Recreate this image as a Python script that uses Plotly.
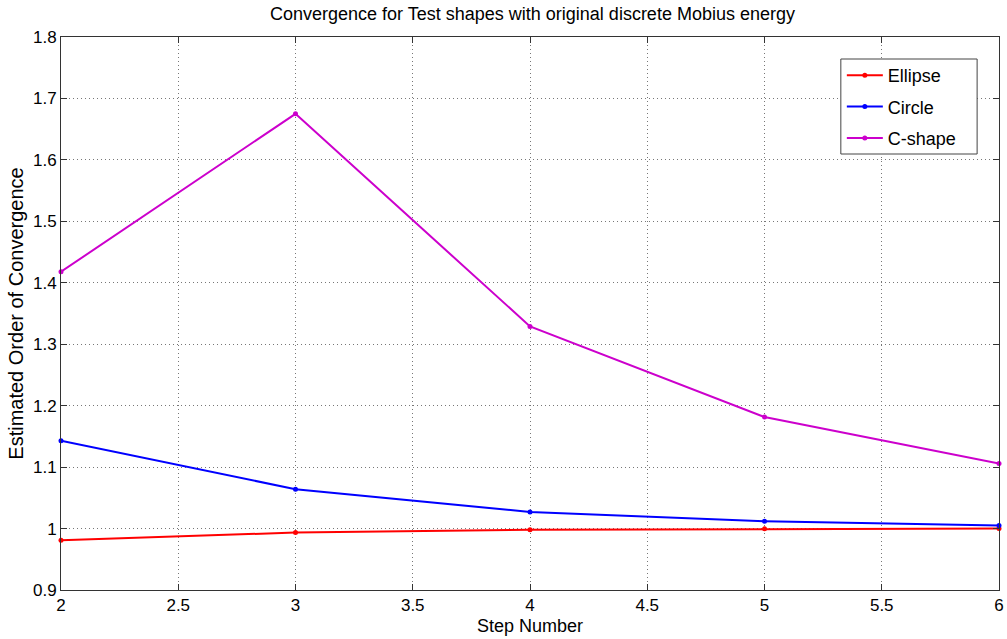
import plotly.graph_objects as go

steps = [2, 3, 4, 5, 6]
ellipse = [0.981, 0.9935, 0.998, 0.9995, 1.000]
circle = [1.143, 1.064, 1.027, 1.012, 1.005]
cshape = [1.418, 1.675, 1.329, 1.1815, 1.106]

x_ticks = [2, 2.5, 3, 3.5, 4, 4.5, 5, 5.5, 6]
y_ticks = [0.9, 1.0, 1.1, 1.2, 1.3, 1.4, 1.5, 1.6, 1.7, 1.8]
y_tick_text = ["0.9", "1", "1.1", "1.2", "1.3", "1.4", "1.5", "1.6", "1.7", "1.8"]

series = [("Ellipse", ellipse, "#ff0000"), ("Circle", circle, "#0000ff"), ("C-shape", cshape, "#cc00cc")]

fig = go.Figure()
for name, vals, col in series:
    fig.add_trace(go.Scatter(x=steps, y=vals, name=name, legendgroup=name, mode="lines+markers",
                             line=dict(color=col, width=2),
                             marker=dict(color=col, size=5, symbol="circle"),
                             cliponaxis=False))

# plot area in pixels: left 61, right 1004, top 37, bottom 590
PL, PR, PT, PB = 61, 1004, 37, 590
pw, ph = PR - PL, PB - PT

def px_x(p):
    return (p - PL) / pw

def px_y(p):
    return (PB - p) / ph

font = "Liberation Sans, Arial, Helvetica, sans-serif"
grid = dict(showgrid=True, gridcolor="#777", griddash="1px,3px", gridwidth=1)
fig.update_layout(
    width=1007, height=639,
    margin=dict(l=PL, r=1007 - PR, t=PT, b=639 - PB),
    paper_bgcolor="white", plot_bgcolor="white",
    font=dict(family=font, size=17, color="black"),
    title=dict(text="Convergence for Test shapes with original discrete Mobius energy",
               x=(PL + PR) / 2 / 1007, xanchor="center", y=1 - 14 / 639, yanchor="middle",
               font=dict(size=18)),
    showlegend=True,
    legend=dict(x=px_x(846), xanchor="left", y=px_y(57), yanchor="top",
                bgcolor="rgba(0,0,0,0)", borderwidth=0,
                font=dict(size=18), tracegroupgap=5, itemwidth=36),
    shapes=[dict(type="rect", xref="paper", yref="paper",
                 x0=px_x(845), x1=px_x(982), y0=px_y(154), y1=px_y(59),
                 line=dict(color="#444", width=1), fillcolor="white", layer="above")],
    xaxis=dict(range=[2, 6], tickvals=x_ticks, ticks="inside", ticklen=6, tickcolor="#333",
               showline=True, linecolor="#333", linewidth=1, mirror="ticks",
               zeroline=False, tickfont=dict(size=17), ticklabeloverflow="allow",
               title=dict(text="Step Number", font=dict(size=18), standoff=4), **grid),
    yaxis=dict(range=[0.9, 1.8], tickvals=y_ticks, ticktext=y_tick_text, ticks="inside", ticklen=6,
               tickcolor="#333", showline=True, linecolor="#333", linewidth=1, mirror="ticks",
               zeroline=False, tickfont=dict(size=17),
               title=dict(text="Estimated Order of Convergence", font=dict(size=20), standoff=3), **grid),
)

fig.write_html("out.html")
